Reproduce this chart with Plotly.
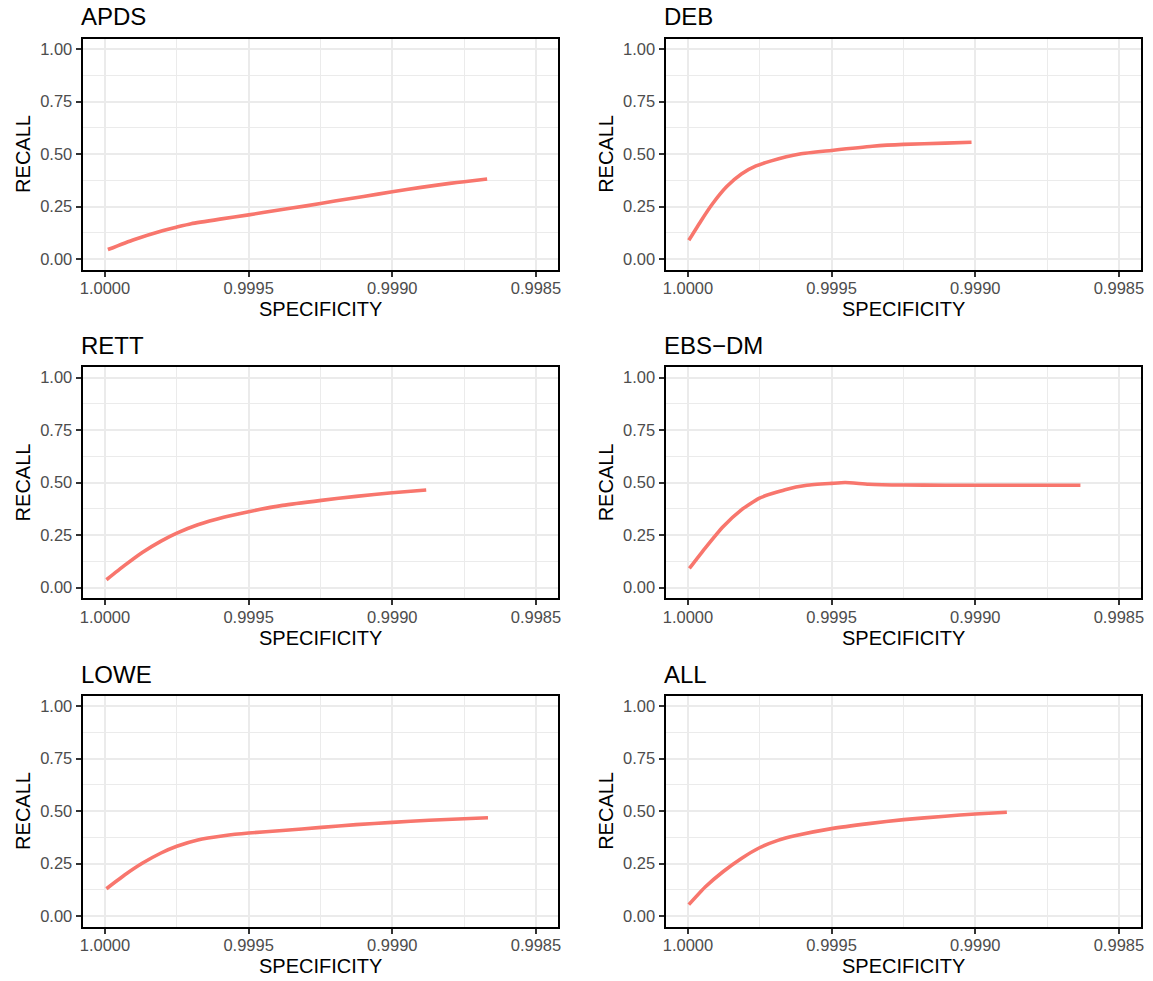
import plotly.graph_objects as go
from plotly.subplots import make_subplots

# ---------------- data ----------------
panel_titles = ["APDS", "DEB", "RETT", "EBS\u2212DM", "LOWE", "ALL"]

apds_spec = [0.99999, 0.9999, 0.9998, 0.99975, 0.9997, 0.9996, 0.9995, 0.9994, 0.9993,
             0.9992, 0.9991, 0.9990, 0.9989, 0.9988, 0.99875, 0.99867]
apds_rec = [0.045, 0.092, 0.135, 0.152, 0.168, 0.190, 0.210, 0.232, 0.253,
            0.276, 0.298, 0.320, 0.341, 0.360, 0.368, 0.381]

deb_spec = [0.999997, 0.999953, 0.999915, 0.999865, 0.999814, 0.999763, 0.999713,
            0.999611, 0.9995, 0.999358, 0.99925, 0.999105, 0.999013]
deb_rec = [0.089, 0.185, 0.262, 0.345, 0.405, 0.443, 0.466,
           0.500, 0.517, 0.537, 0.546, 0.552, 0.556]

rett_spec = [0.999995, 0.999933, 0.999869, 0.999805, 0.99975, 0.999677, 0.999587,
             0.9995, 0.999382, 0.999247, 0.999126, 0.9990, 0.998882]
rett_rec = [0.037, 0.104, 0.168, 0.221, 0.259, 0.299, 0.335,
            0.361, 0.391, 0.415, 0.434, 0.451, 0.464]

ebs_spec = [0.999995, 0.99994, 0.999877, 0.999814, 0.999751, 0.999662, 0.999586,
            0.9995, 0.999453, 0.999371, 0.99925, 0.999105, 0.9990, 0.998852, 0.998634]
ebs_rec = [0.091, 0.188, 0.291, 0.370, 0.426, 0.466, 0.487,
           0.496, 0.500, 0.492, 0.488, 0.487, 0.487, 0.487, 0.487]

lowe_spec = [0.999995, 0.999933, 0.999869, 0.999805, 0.99975, 0.999677, 0.999587,
             0.9995, 0.999382, 0.999247, 0.999126, 0.9990, 0.998872, 0.99875, 0.998667]
lowe_rec = [0.130, 0.194, 0.252, 0.300, 0.332, 0.362, 0.382,
            0.395, 0.407, 0.422, 0.435, 0.446, 0.456, 0.463, 0.468]

all_spec = [0.999997, 0.99994, 0.999877, 0.999814, 0.999751, 0.999687, 0.999624,
            0.9995, 0.999371, 0.999249, 0.999105, 0.9990, 0.99889]
all_rec = [0.054, 0.138, 0.212, 0.274, 0.325, 0.360, 0.383,
           0.416, 0.440, 0.459, 0.475, 0.486, 0.494]

series = [(apds_spec, apds_rec), (deb_spec, deb_rec), (rett_spec, rett_rec),
          (ebs_spec, ebs_rec), (lowe_spec, lowe_rec), (all_spec, all_rec)]

x_tickvals = [1.0, 0.9995, 0.9990, 0.9985]
x_ticktext = ["1.0000", "0.9995", "0.9990", "0.9985"]
x_minor = [0.99975, 0.99925, 0.99875]
y_tickvals = [0.0, 0.25, 0.5, 0.75, 1.0]
y_ticktext = ["0.00", "0.25", "0.50", "0.75", "1.00"]
y_minor = [0.125, 0.375, 0.625, 0.875]

x_label = "SPECIFICITY"
y_label = "RECALL"

# ---------------- layout ----------------
W, H = 1153, 981
FONT = "Liberation Sans, Arial, Helvetica, sans-serif"
LINE_COLOR = "#F8766D"

col_px = [(80, 558), (666, 1144)]
row_px = [(38.5, 269.5), (367, 598), (695.5, 926.5)]

fig = make_subplots(rows=3, cols=2)

annotations = []
for i, (xs, ys) in enumerate(series):
    r, c = i // 2, i % 2
    fig.add_trace(go.Scatter(x=xs, y=ys, mode="lines",
                             line=dict(color=LINE_COLOR, width=3.6, shape="spline", smoothing=0.5),
                             showlegend=False, hoverinfo="x+y"),
                  row=r + 1, col=c + 1)
    x0, x1 = col_px[c]
    t, b = row_px[r]
    xd = [x0 / W, x1 / W]
    yd = [1 - b / H, 1 - t / H]
    ax_suffix = "" if i == 0 else str(i + 1)
    fig.layout["xaxis" + ax_suffix].update(
        domain=xd, range=[1.000078, 0.998423], autorange=False,
        tickmode="array", tickvals=x_tickvals, ticktext=x_ticktext,
        showgrid=True, gridcolor="#EBEBEB", gridwidth=1.5,
        minor=dict(tickmode="array", tickvals=x_minor, showgrid=True,
                   gridcolor="#EBEBEB", gridwidth=1.0, ticks=""),
        showline=True, linecolor="black", linewidth=2, mirror=True,
        ticks="outside", ticklen=5, tickwidth=1.5, tickcolor="#333333",
        ticklabelstandoff=-2,
        tickfont=dict(family=FONT, size=16.5, color="#4D4D4D"),
        zeroline=False)
    fig.layout["yaxis" + ax_suffix].update(
        domain=yd, range=[-0.05, 1.05], autorange=False,
        tickmode="array", tickvals=y_tickvals, ticktext=y_ticktext,
        showgrid=True, gridcolor="#EBEBEB", gridwidth=1.5,
        minor=dict(tickmode="array", tickvals=y_minor, showgrid=True,
                   gridcolor="#EBEBEB", gridwidth=1.0, ticks=""),
        showline=True, linecolor="black", linewidth=2, mirror=True,
        ticks="outside", ticklen=5, tickwidth=1.5, tickcolor="#333333",
        tickfont=dict(family=FONT, size=16.5, color="#4D4D4D"),
        zeroline=False)
    # panel title
    annotations.append(dict(text=panel_titles[i], xref="paper", yref="paper",
                            x=(x0 - 4) / W, y=1 - (t - 21.5) / H, xanchor="left", yanchor="middle",
                            showarrow=False, font=dict(family=FONT, size=24, color="black")))
    # x axis title
    annotations.append(dict(text=x_label, xref="paper", yref="paper",
                            x=(x0 + x1) / 2 / W, y=1 - (b + 39.5) / H,
                            xanchor="center", yanchor="middle", showarrow=False,
                            font=dict(family=FONT, size=20, color="black")))
    # y axis title
    annotations.append(dict(text=y_label, xref="paper", yref="paper",
                            x=(x0 - 60) / W, y=1 - (t + b) / 2 / H,
                            xanchor="center", yanchor="middle", textangle=-90, showarrow=False,
                            font=dict(family=FONT, size=20, color="black")))

fig.update_layout(width=W, height=H, autosize=False,
                  margin=dict(l=0, r=0, t=0, b=0),
                  paper_bgcolor="white", plot_bgcolor="white",
                  annotations=annotations, showlegend=False)

# remove the browser's default page margin so the figure fills the window exactly
fig.write_html("out.html", config={"displayModeBar": False},
               post_script="document.body.style.margin='0';document.body.style.overflow='hidden';")
